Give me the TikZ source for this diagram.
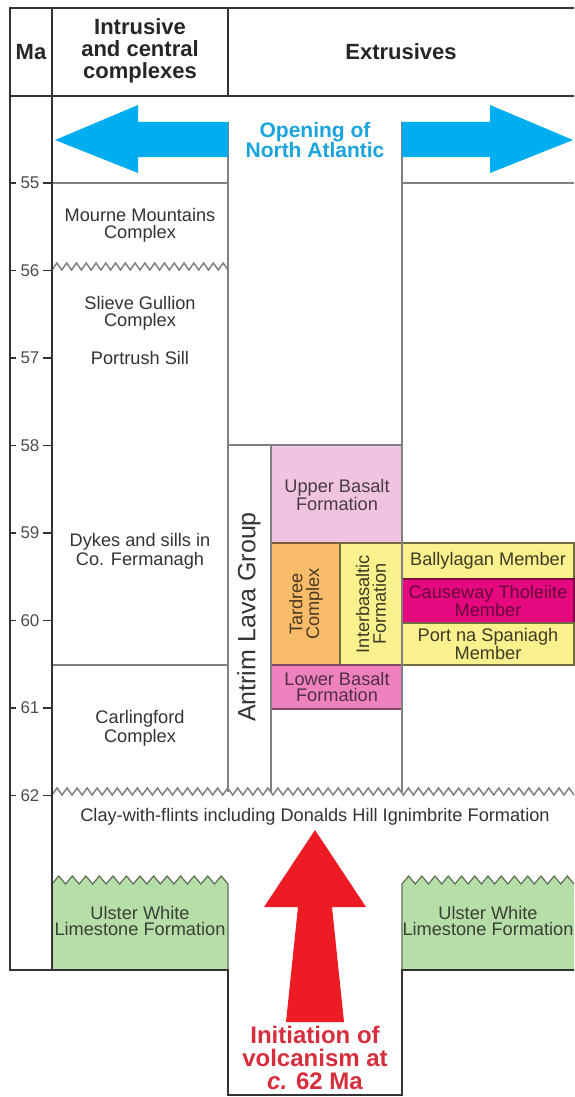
\documentclass[tikz,border=0pt]{standalone}
\usepackage{fontspec}
\setmainfont{Liberation Sans}
\definecolor{atlantic}{HTML}{00AEEF}
\definecolor{atlantictext}{HTML}{1BA3DC}
\definecolor{magma}{HTML}{ED1C24}
\definecolor{magmatext}{HTML}{D62E3C}
\definecolor{upperbas}{HTML}{F0C4E0}
\definecolor{lowerbas}{HTML}{EE82BE}
\definecolor{tardree}{HTML}{F8BC6A}
\definecolor{interbas}{HTML}{F9F08E}
\definecolor{causeway}{HTML}{E5097F}
\definecolor{chalk}{HTML}{B7DDA9}

\begin{document}
\begin{tikzpicture}[x=0.5pt,y=-0.5pt,
  frame/.style={draw=black!80,line width=1.2pt},
  rule/.style={draw=black!50,line width=0.75pt},
  unit/.style={line width=0.6pt},
  lbl/.style={font=\fontsize{9.1}{8.4}\selectfont,align=center,text=black!80,inner sep=0pt},
  head/.style={font=\bfseries\fontsize{11}{11}\selectfont,align=center,text=black!85,inner sep=0pt},
  tick/.style={font=\fontsize{8.5}{9}\selectfont,text=black!70,inner sep=0pt}]
\useasboundingbox (0,0) rectangle (574,1097);

\filldraw[unit,fill=upperbas,draw=upperbas!55!black] (271,445) rectangle (402,543);
\filldraw[unit,fill=tardree,draw=tardree!50!black] (271,543) rectangle (340,665);
\filldraw[unit,fill=interbas,draw=interbas!45!black] (340,543) rectangle (402,665);
\filldraw[unit,fill=interbas,draw=interbas!45!black] (402,543) rectangle (574,579);
\filldraw[unit,fill=causeway,draw=causeway!55!black] (402,579) rectangle (574,623);
\filldraw[unit,fill=interbas,draw=interbas!45!black] (402,623) rectangle (574,665);
\filldraw[unit,fill=lowerbas,draw=lowerbas!55!black] (271,665) rectangle (402,709);
\filldraw[unit,fill=chalk,draw=chalk!50!black] (52,970) -- (52,884)
  \foreach \i in {1,...,13} {-- ++(6.77,-8) -- ++(6.77,8)} -- (228,970) -- cycle;
\filldraw[unit,fill=chalk,draw=chalk!50!black] (574,970) -- (402,970) -- (402,884)
  \foreach \i in {1,...,13} {-- ++(6.615,-8) -- ++(6.615,8)};

\draw[rule] (228,122) -- (228,792) (402,122) -- (402,792);
\draw[rule] (52,183) -- (228,183) (402,183) -- (574,183);
\draw[rule] (52,270) \foreach \i in {1,...,18} {-- ++(4.89,-7) -- ++(4.89,7)};
\draw[rule] (228,445) -- (402,445) (271,445) -- (271,792);
\draw[rule] (52,665) -- (228,665);
\draw[rule] (52,795) \foreach \i in {1,...,52} {-- ++(5.02,-7) -- ++(5.02,7)};

\fill[atlantic] (228,122) -- (138,122) -- (138,105) -- (55,140) -- (138,173)
  -- (138,157) -- (228,157) -- cycle;
\fill[atlantic] (402,122) -- (490,122) -- (490,105) -- (573,140) -- (490,173)
  -- (490,157) -- (402,157) -- cycle;
\fill[magma] (315,830) -- (366,907) -- (332,907) -- (344,1022) -- (286,1022)
  -- (298,907) -- (264,907) -- cycle;

\draw[frame] (574,8) -- (10,8) -- (10,970) -- (228,970) -- (228,1095)
  -- (402,1095) -- (402,970) -- (574,970);
\draw[frame] (52,8) -- (52,970) (228,8) -- (228,96) (10,96) -- (574,96);
\foreach \m [evaluate=\m as \y using {183+(\m-55)*87.5}] in {55,...,62} {
  \draw[frame,line width=0.6pt] (10,\y) -- (16,\y) (43,\y) -- (52,\y);
  \node[tick] (t\m) at (30,\y) {\m};
}

\node[head] (ma) at (31,52) {Ma};
\node[head] (intrusive) at (140,51) {Intrusive\\and central\\complexes};
\node[head] (extrusive) at (401,52) {Extrusives};
\node[head,text=atlantictext,font=\bfseries\fontsize{10.5}{10}\selectfont]
  (opening) at (315,140) {Opening of\\North Atlantic};
\node[lbl] (mourne) at (140,225) {Mourne Mountains\\Complex};
\node[lbl] (slieve) at (140,313) {Slieve Gullion\\Complex};
\node[lbl] (portrush) at (140,358) {Portrush Sill};
\node[lbl] (dykes) at (140,551) {Dykes and sills in\\Co. Fermanagh};
\node[lbl] (carling) at (140,728) {Carlingford\\Complex};
\node[lbl,rotate=90,font=\fontsize{12.5}{12}\selectfont] (antrim) at (249,617)
  {Antrim Lava Group};
\node[lbl,text=upperbas!30!black] (upper) at (337,495) {Upper Basalt\\Formation};
\node[lbl,rotate=90,text=tardree!30!black] (tardreec) at (306,604)
  {Tardree\\Complex};
\node[lbl,rotate=90,text=interbas!25!black] (interbasalt) at (371,604)
  {Interbasaltic\\Formation};
\node[lbl,text=interbas!25!black] (bally) at (488,561) {Ballylagan Member};
\node[lbl,text=causeway!45!black] (tholeiite) at (488,601)
  {Causeway Tholeiite\\Member};
\node[lbl,text=interbas!25!black] (spaniagh) at (488,644)
  {Port na Spaniagh\\Member};
\node[lbl,text=lowerbas!35!black] (lower) at (337,687) {Lower Basalt\\Formation};
\node[lbl] (clay) at (315,817)
  {Clay-with-flints including Donalds Hill Ignimbrite Formation};
\node[lbl,text=chalk!30!black] (ulsterl) at (140,921) {Ulster White\\Limestone Formation};
\node[lbl,text=chalk!30!black] (ulsterr) at (488,921) {Ulster White\\Limestone Formation};
\node[head,text=magmatext,font=\bfseries\fontsize{12}{11.5}\selectfont]
  (initiation) at (315,1058) {Initiation of\\volcanism at\\\textit{c.} 62 Ma};
\end{tikzpicture}
\end{document}
